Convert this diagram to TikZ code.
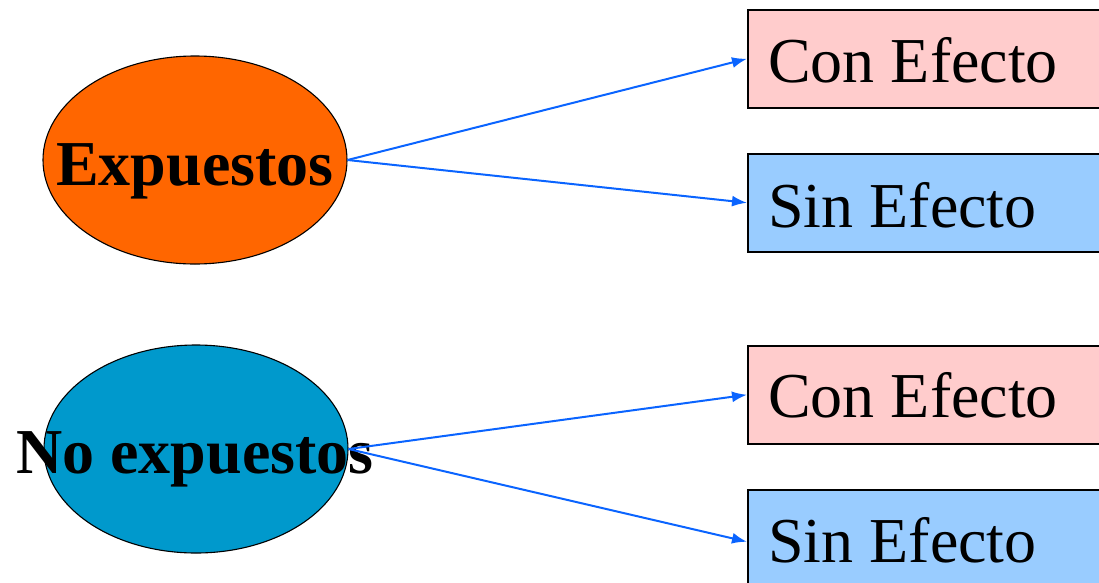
\documentclass[tikz,border=0pt]{standalone}
\usepackage{fontspec}
\setmainfont{Liberation Serif}
\usetikzlibrary{shapes.geometric,arrows.meta}
\definecolor{orangeE}{HTML}{FF6600}
\definecolor{blueE}{HTML}{0099CC}
\definecolor{pinkB}{HTML}{FFCCCC}
\definecolor{blueB}{HTML}{99CCFF}
\definecolor{arrowC}{HTML}{0A64FF}
\tikzset{
  oval/.style={ellipse, draw=black, line width=1.1pt, minimum width=304pt, minimum height=208pt, inner sep=0pt},
  outbox/.style={rectangle, draw=black, line width=1.5pt, minimum width=400pt, minimum height=98pt, inner sep=0pt, anchor=north west},
  boxtext/.style={anchor=base west, inner sep=0pt, font=\fontsize{64}{70}\selectfont},
  ovaltext/.style={anchor=base, inner sep=0pt, font=\fontsize{64}{70}\selectfont\bfseries},
  arr/.style={draw=arrowC, line width=2pt, -{Latex[length=15pt,width=11pt]}}
}
\begin{document}
\begin{tikzpicture}[x=1pt,y=-1pt]
\useasboundingbox (0,0) rectangle (1099,582);
% ellipses
\node[oval, fill=orangeE] (e1) at (195,160) {};
\node[oval, fill=blueE] (e2) at (196,449) {};
\node[ovaltext] (t1) at (195,185) {Expuestos};
\node[ovaltext] (t2) at (195,473) {No expuestos};
% boxes
\node[outbox, fill=pinkB] (b1) at (747,9) {};
\node[outbox, fill=blueB] (b2) at (747,153) {};
\node[outbox, fill=pinkB] (b3) at (747,345) {};
\node[outbox, fill=blueB] (b4) at (747,489) {};
\node[boxtext] (l1) at (768,82) {Con Efecto};
\node[boxtext] (l2) at (768,227) {Sin Efecto};
\node[boxtext] (l3) at (768,417) {Con Efecto};
\node[boxtext] (l4) at (768,562) {Sin Efecto};
% arrows
\draw[arr] (e1.east) -- (b1.west);
\draw[arr] (e1.east) -- (b2.west);
\draw[arr] (e2.east) -- (b3.west);
\draw[arr] (e2.east) -- ([yshift=-3pt]b4.west);
\end{tikzpicture}
\end{document}
